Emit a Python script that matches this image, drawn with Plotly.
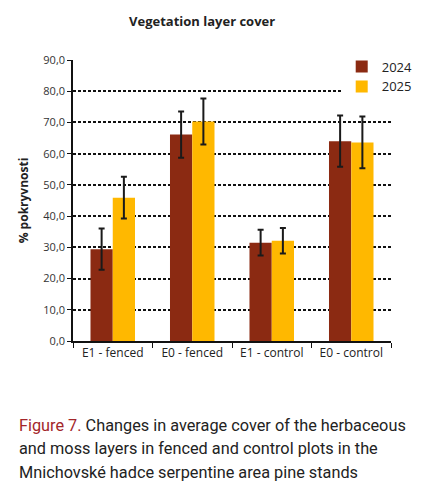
import plotly.graph_objects as go

categories = ["E1 - fenced", "E0 - fenced", "E1 - control", "E0 - control"]
cover_2024 = [29.4, 66.1, 31.5, 64.0]
err_2024 = [6.6, 7.4, 4.1, 8.2]
cover_2025 = [45.9, 70.3, 32.1, 63.6]
err_2025 = [6.7, 7.4, 4.1, 8.3]
y_ticks = [0, 10, 20, 30, 40, 50, 60, 70, 80, 90]

font = "Open Sans"

fig = go.Figure()
fig.add_trace(go.Bar(
    x=categories, y=cover_2024, name="2024",
    marker=dict(color="#8B2A12", line=dict(width=0)),
    error_y=dict(type="data", array=err_2024, color="#1a1a1a", thickness=2, width=3),
))
fig.add_trace(go.Bar(
    x=categories, y=cover_2025, name="2025",
    marker=dict(color="#FFB800", line=dict(width=0)),
    error_y=dict(type="data", array=err_2025, color="#1a1a1a", thickness=2, width=3),
))

fig.update_layout(
    width=430, height=500,
    margin=dict(l=73, r=23, t=60, b=159),
    paper_bgcolor="white", plot_bgcolor="white",
    barmode="group", bargap=0.44, bargroupgap=0,
    separators=", ",
    font=dict(family=font, color="#333333", size=11),
    title=dict(text="<b>Vegetation layer cover</b>", x=0.47, xanchor="center",
               y=0.958, yanchor="middle", font=dict(size=13, color="#222222")),
    legend=dict(x=0.845, y=1.03, xanchor="left", yanchor="top",
                bgcolor="white", font=dict(size=13, color="#222222"),
                itemsizing="constant", tracegroupgap=4),
    showlegend=True,
)
fig.update_yaxes(
    range=[0, 90], tickvals=y_ticks, tickformat=".1f",
    showgrid=True, gridcolor="#111111", gridwidth=1.5, griddash="3px,2px",
    showline=True, linecolor="#111111", linewidth=1.5,
    ticks="outside", ticklen=4, tickcolor="#111111",
    zeroline=False,
    title=dict(text="<b>% pokryvnosti</b>", font=dict(size=12, color="#222222"), standoff=12),
)
fig.update_xaxes(
    showline=True, linecolor="#111111", linewidth=1.5,
    ticks="outside", ticklen=5, tickcolor="#111111", tickson="boundaries",
    tickfont=dict(size=12, color="#222222"),
)

caption = [
    "<span style='color:#A3262A'>Figure 7.</span> Changes in average cover of the herbaceous",
    "and moss layers in fenced and control plots in the",
    "Mnichovské hadce serpentine area pine stands",
]
for i, line in enumerate(caption):
    fig.add_annotation(
        text=line, xref="paper", yref="paper",
        x=(14 - 73) / 334, y=(341 - 425 - i * 23.5) / 281,
        xanchor="left", yanchor="middle", showarrow=False,
        font=dict(family="Roboto", size=16.3, color="#222222"),
    )

fig.write_html("out.html", config={"displayModeBar": False},
               post_script="document.body.style.margin='0';")
